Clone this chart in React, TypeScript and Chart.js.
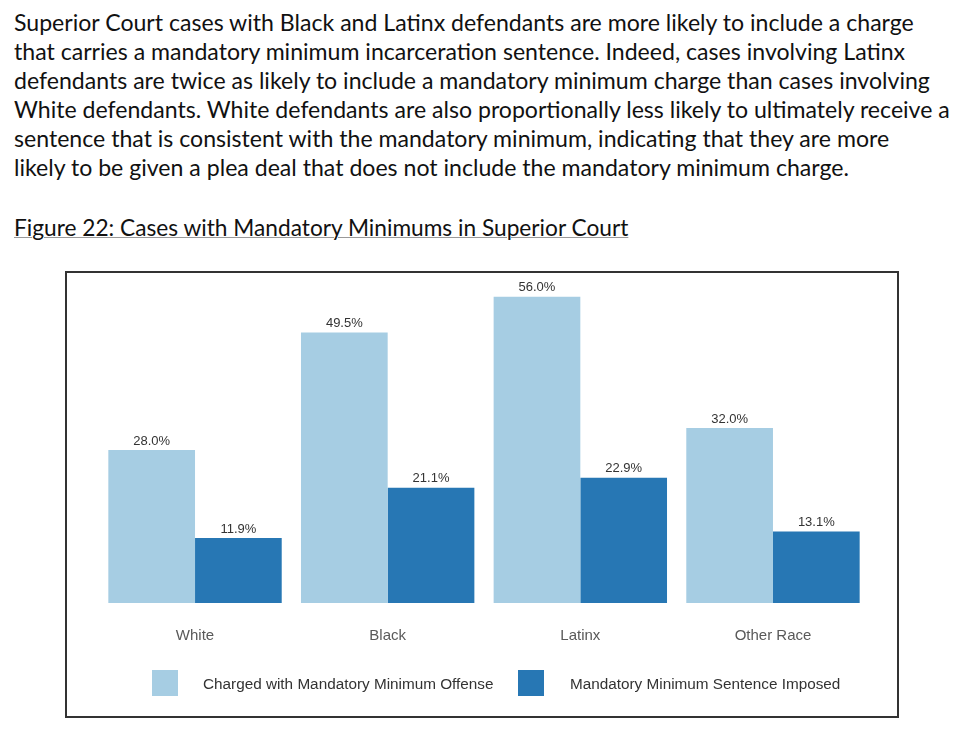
import React, { useEffect, useRef } from "react";
import { Chart, registerables } from "chart.js";

Chart.register(...registerables);

const paragraphLines = [
  "Superior Court cases with Black and Latinx defendants are more likely to include a charge",
  "that carries a mandatory minimum incarceration sentence. Indeed, cases involving Latinx",
  "defendants are twice as likely to include a mandatory minimum charge than cases involving",
  "White defendants. White defendants are also proportionally less likely to ultimately receive a",
  "sentence that is consistent with the mandatory minimum, indicating that they are more",
  "likely to be given a plea deal that does not include the mandatory minimum charge.",
];
const figureTitle = "Figure 22: Cases with Mandatory Minimums in Superior Court";

const categories = ["White", "Black", "Latinx", "Other Race"];
const seriesNames = ["Charged with Mandatory Minimum Offense", "Mandatory Minimum Sentence Imposed"];
const chargedValues = [28.0, 49.5, 56.0, 32.0];
const imposedValues = [11.9, 21.1, 22.9, 13.1];
const seriesColors = ["#a6cde3", "#2777b4"];

const valueLabelPlugin = {
  id: "valueLabels",
  afterDatasetsDraw(chart: any) {
    const ctx = chart.ctx;
    ctx.save();
    ctx.font = "13px 'Liberation Sans', Arial, sans-serif";
    ctx.fillStyle = "#333333";
    ctx.textAlign = "center";
    ctx.textBaseline = "middle";
    chart.data.datasets.forEach((ds: any, di: number) => {
      const meta = chart.getDatasetMeta(di);
      meta.data.forEach((bar: any, i: number) => {
        ctx.fillText(ds.data[i].toFixed(1) + "%", bar.x, bar.y - 9);
      });
    });
    ctx.restore();
  },
};

export default function App() {
  const ref = useRef<HTMLCanvasElement>(null);
  useEffect(() => {
    if (!ref.current) return;
    const chart = new Chart(ref.current, {
      type: "bar",
      data: {
        labels: categories,
        datasets: [
          { label: seriesNames[0], data: chargedValues, backgroundColor: seriesColors[0] },
          { label: seriesNames[1], data: imposedValues, backgroundColor: seriesColors[1] },
        ],
      },
      options: {
        animation: false,
        responsive: false,
        maintainAspectRatio: false,
        layout: { padding: { left: 31.7, right: 27.7, top: 2, bottom: 12 } },
        datasets: { bar: { barPercentage: 1, categoryPercentage: 0.9 } },
        plugins: { legend: { display: false }, tooltip: { enabled: false } },
        scales: {
          x: {
            grid: { display: false, drawTicks: false },
            border: { display: false },
            ticks: {
              padding: 24,
              color: "#595959",
              font: { family: "'Liberation Sans', Arial, sans-serif", size: 15 },
            },
          },
          y: { display: false, min: 0, max: 60 },
        },
      },
      plugins: [valueLabelPlugin],
    });
    return () => chart.destroy();
  }, []);

  const textFont = "Lato, 'Open Sans', sans-serif";
  return (
    <div style={{ position: "absolute", left: 0, top: 0, width: 973, height: 740, background: "#fff" }}>
      <div
        style={{
          position: "absolute",
          left: 14,
          top: 8,
          fontFamily: textFont,
          fontSize: 23.1,
          lineHeight: "29px",
          color: "#111",
          whiteSpace: "nowrap",
        }}
      >
        {paragraphLines.map((l, i) => (
          <div key={i}>{l}</div>
        ))}
      </div>
      <div
        style={{
          position: "absolute",
          left: 14,
          top: 213,
          fontFamily: textFont,
          fontSize: 22.7,
          lineHeight: "29px",
          color: "#111",
          whiteSpace: "nowrap",
          textDecoration: "underline",
          textDecorationColor: "#999",
          textDecorationThickness: 1,
        }}
      >
        {figureTitle}
      </div>
      <div
        style={{
          position: "absolute",
          left: 65,
          top: 271,
          width: 834,
          height: 447,
          border: "2px solid #333",
          boxSizing: "border-box",
        }}
      />
      <canvas
        ref={ref}
        width={830}
        height={408}
        style={{ position: "absolute", left: 67, top: 273, width: 830, height: 408 }}
      />
      {seriesNames.map((name, i) => (
        <React.Fragment key={i}>
          <div
            style={{
              position: "absolute",
              left: i === 0 ? 152 : 518,
              top: 670,
              width: 26,
              height: 26,
              background: seriesColors[i],
            }}
          />
          <div
            style={{
              position: "absolute",
              left: i === 0 ? 203 : 570,
              top: 675,
              fontFamily: "'Liberation Sans', Arial, sans-serif",
              fontSize: 15.3,
              lineHeight: "18px",
              color: "#333",
              whiteSpace: "nowrap",
            }}
          >
            {name}
          </div>
        </React.Fragment>
      ))}
    </div>
  );
}
